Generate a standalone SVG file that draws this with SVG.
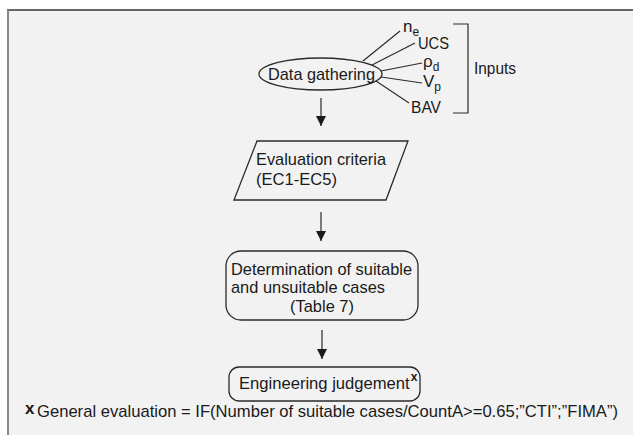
<svg xmlns="http://www.w3.org/2000/svg" width="633" height="435" viewBox="0 0 633 435">
<defs>
<style>
.t{font-family:"Liberation Sans",Arial,sans-serif;font-size:17px;fill:#1a1a1a}
.s{font-size:12px}
.sup{font-size:12px;font-weight:bold}
.shape{fill:none;stroke:#2a2a2a;stroke-width:1.3}
.ln{stroke:#2a2a2a;stroke-width:1.2;fill:none}
</style>
<marker id="ah" viewBox="0 0 10 10" refX="10" refY="5" markerWidth="10" markerHeight="10" markerUnits="userSpaceOnUse" orient="auto">
<path d="M0,0 L10,5 L0,10 Z" fill="#1a1a1a"/>
</marker>
</defs>
<rect x="0" y="0" width="633" height="435" fill="#ffffff"/>
<rect x="8" y="10" width="625" height="425" fill="#f2f2f2"/>
<line x1="7" y1="10" x2="633" y2="10" stroke="#333" stroke-width="1.6"/>
<line x1="8" y1="10" x2="8" y2="435" stroke="#888" stroke-width="2"/>

<g id="connectors">
<line class="ln" x1="363" y1="61" x2="400" y2="31"/>
<line class="ln" x1="372" y1="65" x2="415" y2="43"/>
<line class="ln" x1="381" y1="71" x2="422" y2="63"/>
<line class="ln" x1="381" y1="77" x2="422" y2="83"/>
<line class="ln" x1="376" y1="81" x2="409" y2="103"/>
<line class="ln" x1="321" y1="98" x2="321" y2="126" marker-end="url(#ah)"/>
<line class="ln" x1="321" y1="212" x2="321" y2="241" marker-end="url(#ah)"/>
<line class="ln" x1="322" y1="330" x2="322" y2="359" marker-end="url(#ah)"/>
</g>

<g id="data-gathering">
<ellipse class="shape" cx="320.5" cy="74" rx="61.5" ry="16"/>
<text class="t" x="268" y="80" textLength="107" lengthAdjust="spacingAndGlyphs">Data gathering</text>
</g>

<g id="inputs">
<text class="t" x="403" y="32">n<tspan class="s" dy="4">e</tspan></text>
<text class="t" x="418" y="49" textLength="31" lengthAdjust="spacingAndGlyphs">UCS</text>
<text class="t" x="423" y="67">ρ<tspan class="s" dy="4">d</tspan></text>
<text class="t" x="423" y="87">V<tspan class="s" dy="4">p</tspan></text>
<text class="t" x="411" y="113" textLength="30" lengthAdjust="spacingAndGlyphs">BAV</text>
<path class="ln" d="M453,24 H468 V113 H453"/>
<text class="t" x="474" y="74" textLength="42" lengthAdjust="spacingAndGlyphs">Inputs</text>
</g>

<g id="evaluation-criteria">
<polygon class="shape" points="257,141 408,141 386,200 234,200"/>
<text class="t" x="256" y="165" textLength="130" lengthAdjust="spacingAndGlyphs">Evaluation criteria</text>
<text class="t" x="256" y="185" textLength="81" lengthAdjust="spacingAndGlyphs">(EC1-EC5)</text>
</g>

<g id="determination">
<rect class="shape" x="226" y="251" width="192" height="69" rx="15"/>
<text class="t" x="231" y="275" textLength="181" lengthAdjust="spacingAndGlyphs">Determination of suitable</text>
<text class="t" x="231" y="293" textLength="154" lengthAdjust="spacingAndGlyphs">and unsuitable cases</text>
<text class="t" x="290" y="312" textLength="64" lengthAdjust="spacingAndGlyphs">(Table 7)</text>
</g>

<g id="engineering-judgement">
<rect class="shape" x="229" y="367" width="191" height="34" rx="10"/>
<text class="t" x="239" y="389" style="font-size:16.6px">Engineering judgement<tspan class="sup" dx="1" dy="-8">x</tspan></text>
</g>

<g id="footnote">
<text class="t" x="25" y="414" style="font-size:17px;font-weight:bold">x</text>
<text class="t" x="37" y="417" textLength="581" lengthAdjust="spacingAndGlyphs">General evaluation = IF(Number of suitable cases/CountA&gt;=0.65;”CTI”;”FIMA”)</text>
</g>
</svg>
